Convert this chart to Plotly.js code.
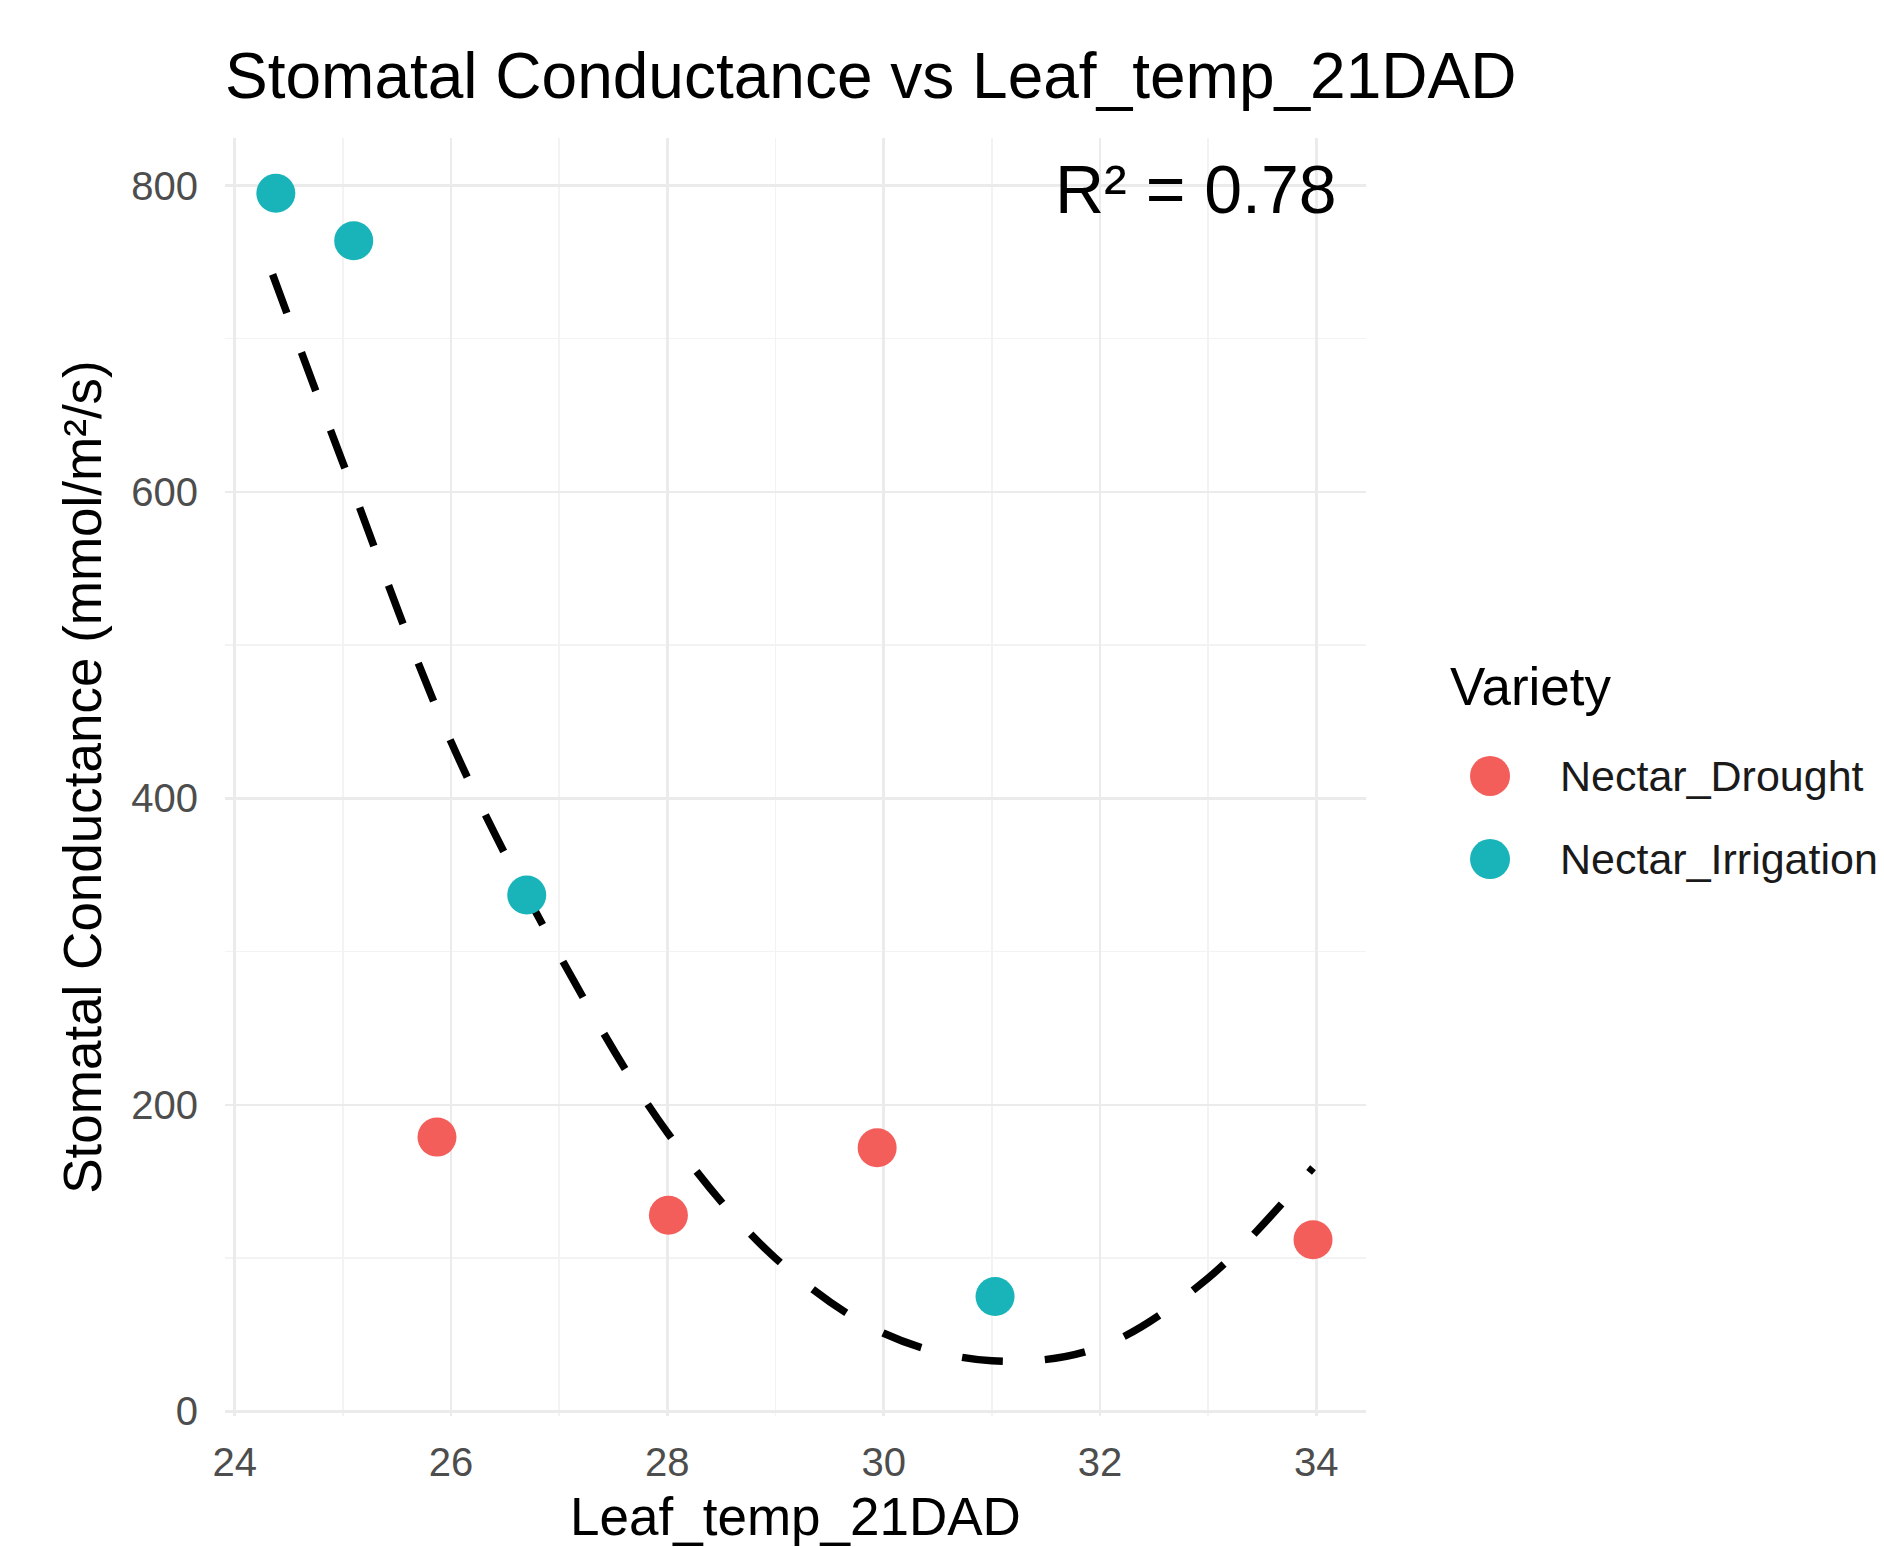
<!DOCTYPE html>
<html>
<head>
<meta charset="utf-8">
<script src="https://cdn.plot.ly/plotly-3.0.1.min.js"></script>
<style>html,body{margin:0;padding:0;background:#fff;}#chart{width:1884px;height:1547px;}</style>
</head>
<body>
<div id="chart"></div>
<script>
// Data
const droughtTemp = [25.87, 28.01, 29.94, 33.97];
const droughtGs   = [179, 128, 172, 112];
const irrigTemp   = [24.38, 25.10, 26.70, 31.03];
const irrigGs     = [795, 764, 337, 75];
// Dashed fit curve
const fitTemp = [24.35, 25.0, 26.0, 27.0, 28.0, 29.0, 30.0, 31.0, 32.0, 33.0, 33.97];
const fitGs   = [742, 619, 437, 298, 182, 100, 51, 33, 42, 87, 159];
const seriesNames = ["Nectar_Drought", "Nectar_Irrigation"];
const seriesColors = ["#F45E5A", "#18B4B9"];
const legendTitle = "Variety";
const r2Label = "R² = 0.78";
const xTicks = [24, 26, 28, 30, 32, 34];
const yTicks = [0, 200, 400, 600, 800];

const FONT = "Liberation Sans, Arial, sans-serif";
const traces = [
  {x: fitTemp, y: fitGs, mode: "lines", type: "scatter", showlegend: false, hoverinfo: "skip",
   line: {color: "#000000", width: 7.5, dash: "41px,42px", shape: "spline", smoothing: 1.0}},
  {x: droughtTemp, y: droughtGs, mode: "markers", type: "scatter", name: seriesNames[0], showlegend: false,
   marker: {color: seriesColors[0], size: 39}},
  {x: irrigTemp, y: irrigGs, mode: "markers", type: "scatter", name: seriesNames[1], showlegend: false,
   marker: {color: seriesColors[1], size: 39}}
];

// Legend drawn by hand (Plotly caps legend symbols at 16px)
const legX = 1.0719, symX = 1.1087, txtX = 1.1683;
const legTitleY = 0.5712, itemY = [0.5008, 0.4358];
const annotations = [
  {x: 34.21, y: 798, xref: "x", yref: "y", text: r2Label, showarrow: false,
   xanchor: "right", yanchor: "middle", font: {size: 68, color: "#000", family: FONT}},
  {x: legX, y: legTitleY, xref: "paper", yref: "paper", text: legendTitle, showarrow: false,
   xanchor: "left", yanchor: "middle", font: {size: 53, color: "#000", family: FONT}}
];
const shapes = [];
seriesNames.forEach((n, i) => {
  annotations.push({x: txtX, y: itemY[i], xref: "paper", yref: "paper", text: n, showarrow: false,
    xanchor: "left", yanchor: "middle", font: {size: 43, color: "#1a1a1a", family: FONT}});
  shapes.push({type: "circle", xref: "paper", yref: "paper", xsizemode: "pixel", ysizemode: "pixel",
    xanchor: symX, yanchor: itemY[i], x0: -20, x1: 20, y0: -20, y1: 20,
    fillcolor: seriesColors[i], line: {width: 0}});
});

const layout = {
  width: 1884, height: 1547,
  paper_bgcolor: "#ffffff", plot_bgcolor: "#ffffff",
  margin: {l: 225, r: 518, t: 138, b: 131},
  font: {family: FONT, color: "#000"},
  showlegend: false,
  title: {text: "Stomatal Conductance vs Leaf_temp_21DAD", font: {size: 64, family: FONT, color: "#000"},
          xref: "paper", x: 0, xanchor: "left", yref: "container", y: 1 - 76/1547, yanchor: "middle"},
  xaxis: {range: [23.91, 34.46], tickvals: xTicks, ticktext: xTicks.map(String),
          showgrid: true, gridcolor: "#EBEBEB", gridwidth: 2.6, zeroline: false, showline: false,
          ticks: "", ticklabelstandoff: 19, tickfont: {size: 40, color: "#4D4D4D", family: FONT},
          minor: {dtick: 1, tick0: 25, showgrid: true, gridcolor: "#F3F3F3", gridwidth: 1.5},
          title: {text: "Leaf_temp_21DAD", font: {size: 53, color: "#000", family: FONT}, standoff: 14}},
  yaxis: {range: [-3, 831], tickvals: yTicks, ticktext: yTicks.map(String),
          showgrid: true, gridcolor: "#EBEBEB", gridwidth: 2.6, zeroline: false, showline: false,
          ticks: "", ticklabelstandoff: 26, tickfont: {size: 40, color: "#4D4D4D", family: FONT},
          minor: {dtick: 100, tick0: 100, showgrid: true, gridcolor: "#F3F3F3", gridwidth: 1.5},
          title: {text: "Stomatal Conductance (mmol/m²/s)", font: {size: 53, color: "#000", family: FONT}, standoff: 12}},
  annotations: annotations,
  shapes: shapes
};
Plotly.newPlot("chart", traces, layout, {displayModeBar: false, staticPlot: true});
</script>
</body>
</html>
